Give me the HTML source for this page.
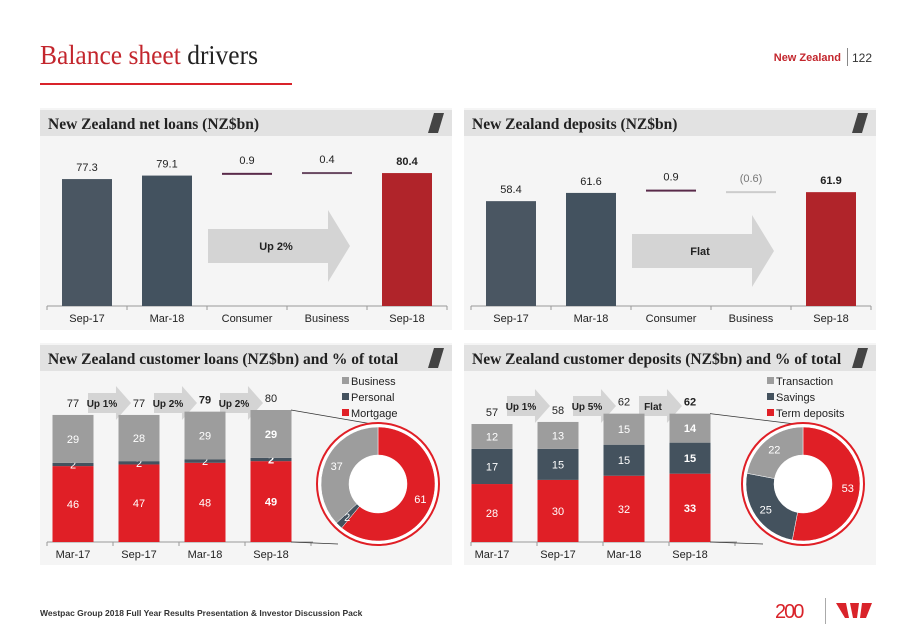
<!DOCTYPE html>
<html><head><meta charset="utf-8">
<style>
html,body{margin:0;padding:0;background:#fff;}
svg{display:block;font-family:"Liberation Sans",Arial,sans-serif;}
.ser{font-family:"Liberation Serif","Times New Roman",serif;}
</style></head>
<body>
<svg id="s" width="911" height="635" viewBox="0 0 911 635" xmlns="http://www.w3.org/2000/svg">
<text x="40" y="64" class="ser" font-size="27" textLength="218" lengthAdjust="spacingAndGlyphs" fill="#c3262d">Balance sheet <tspan fill="#222">drivers</tspan></text>
<rect x="40" y="83" width="252" height="2" fill="#d9232a"/>
<text x="841" y="61" text-anchor="end" font-size="11" font-weight="bold" fill="#c3262d">New Zealand</text>
<rect x="847" y="48" width="1" height="18" fill="#888"/>
<text x="852" y="62" font-size="12" fill="#333">122</text>
<text x="40" y="616" font-size="8.5" font-weight="bold" fill="#333">Westpac Group 2018 Full Year Results Presentation &amp; Investor Discussion Pack</text>
<text x="775" y="618" font-size="20" fill="#d9232a" letter-spacing="-2">200</text>
<rect x="825" y="598" width="1" height="26" fill="#aaa"/>
<path d="M836 603h10l3 15h-4zM850 603h9l-2 15h-4zM862 603h10l-6 15h-6z" fill="#d9232a"/>
<g id="g"></g>
</svg>
<script>
// Net loans
const nlCats=["Sep-17","Mar-18","Consumer","Business","Sep-18"];
const nlVals=[77.3,79.1,0.9,0.4,80.4];
const nlLabels=["77.3","79.1","0.9","0.4","80.4"];
// Deposits
const dpCats=["Sep-17","Mar-18","Consumer","Business","Sep-18"];
const dpVals=[58.4,61.6,0.9,-0.6,61.9];
const dpLabels=["58.4","61.6","0.9","(0.6)","61.9"];
// Customer loans
const clCats=["Mar-17","Sep-17","Mar-18","Sep-18"];
const clMortgage=[46,47,48,49];
const clPersonal=[2,2,2,2];
const clBusiness=[29,28,29,29];
const clTotals=["77","77","79","80"];
const clGrowth=["Up 1%","Up 2%","Up 2%"];
const clPie=[61,2,37];
// Customer deposits
const cdCats=["Mar-17","Sep-17","Mar-18","Sep-18"];
const cdTerm=[28,30,32,33];
const cdSavings=[17,15,15,15];
const cdTrans=[12,13,15,14];
const cdTotals=["57","58","62","62"];
const cdGrowth=["Up 1%","Up 5%","Flat"];
const cdPie=[53,25,22];

const NS="http://www.w3.org/2000/svg";
const G=document.getElementById('g');
function mk(t,a,p){const e=document.createElementNS(NS,t);for(const k in a)e.setAttribute(k,a[k]);(p||G).appendChild(e);return e;}
function tx(x,y,s,a,p){const e=mk('text',Object.assign({x:x,y:y,'text-anchor':'middle','font-size':11,fill:'#222'},a),p);e.textContent=s;return e;}

function panel(x,y,w,h,title,name){
  const g=mk('g',{});
  
  
  mk('rect',{x:x,y:y,width:w,height:h,fill:'#f5f5f5'},g);
  const hb=mk('rect',{x:x,y:y+2,width:w,height:26,fill:'#e2e2e2'},g);
  
  
  mk('path',{d:`M${x+w-18} ${y+5}h10l-6 20h-10z`,fill:'#444'},g);
  const t=tx(x+8,y+21,title,{'text-anchor':'start','font-size':15.5,'font-weight':'bold',fill:'#222','class':'ser'},g);
  
  
  return g;
}
function arrow(x1,x2,yc,bh,hh,label,g,fs){
  const hl=Math.min(22,(x2-x1)*0.35);
  const p=mk('path',{d:`M${x1} ${yc-bh/2}H${x2-hl}V${yc-hh/2}L${x2} ${yc}L${x2-hl} ${yc+hh/2}V${yc+bh/2}H${x1}Z`,fill:'#d4d4d4'},g);
  
  
  const t=tx((x1+x2-hl)/2+(fs>10?8:0),yc+4,label,{'font-weight':'bold','font-size':fs||10},g);
  
  
}

function waterfall(x0,cats,vals,labels,base,k,name,title,arrowLabel,ay){
  const g=panel(x0,108,412,222,title,name);
  const y0=306;
  const ys=v=>y0-k*(v-base);
  const cx=i=>x0+47+i*80;
  mk('line',{x1:x0+7,x2:x0+407,y1:y0,y2:y0,stroke:'#999'},g);
  for(let i=0;i<=5;i++) mk('line',{x1:x0+7+i*80,x2:x0+7+i*80,y1:y0,y2:y0+4,stroke:'#999'},g);
  let run=vals[1];
  arrow(x0+168,x0+310,ay,34,72,arrowLabel,g,11);
  vals.forEach((v,i)=>{
    let ly;
    if(i<2||i===4){
      const r=mk('rect',{x:cx(i)-25,y:ys(v),width:50,height:y0-ys(v),fill:i===4?'#b0242a':(i===0?'#4a5662':'#43525f')},g);
      
      
      ly=ys(v)-8;
    } else {
      run+=v;
      const neg=v<0;
      const l=mk('rect',{x:cx(i)-25,y:ys(run)-1,width:50,height:2,fill:neg?'#cccccc':(i===3?'#6a4a62':'#5a2a4a')},g);
      
      
      ly=ys(run)-10;
    }
    const t=tx(cx(i),ly,labels[i],{'font-size':11,'font-weight':i===4?'bold':'normal',fill:vals[i]<0?'#777':'#222'},g);
    
    
    const c=tx(cx(i),322,cats[i],{'font-size':11},g);
    
    
  });
}
waterfall(40,nlCats,nlVals,nlLabels,11.7,1.935,'net-loans-chart','New Zealand net loans (NZ$bn)','Up 2%',246);
waterfall(464,dpCats,dpVals,dpLabels,17.6,2.57,'deposits-chart','New Zealand deposits (NZ$bn)','Flat',251);

function donut(cx,cy,vals,cols,g){
  const R=57,r=29;
  mk('circle',{cx:cx,cy:cy,r:61,fill:'#fff',stroke:'#e01f26','stroke-width':2},g);
  const tot=vals.reduce((a,b)=>a+b,0);
  let a0=0;
  vals.forEach((v,i)=>{
    const a1=a0+v/tot*2*Math.PI;
    const P=(a,rr)=>[cx+rr*Math.sin(a),cy-rr*Math.cos(a)];
    const [x1,y1]=P(a0,R),[x2,y2]=P(a1,R),[x3,y3]=P(a1,r),[x4,y4]=P(a0,r);
    const lg=(a1-a0)>Math.PI?1:0;
    const p=mk('path',{d:`M${x1} ${y1}A${R} ${R} 0 ${lg} 1 ${x2} ${y2}L${x3} ${y3}A${r} ${r} 0 ${lg} 0 ${x4} ${y4}Z`,fill:cols[i],stroke:'#fff','stroke-width':0.5},g);
    
    
    const am=(a0+a1)/2;const [lx,ly]=P(am,(R+r)/2+2);
    const t=tx(lx,ly+4,String(v),{fill:'#fff','font-size':11},g);
    
    
    a0=a1;
  });
}

function stacked(x0,cats,s1,s2,s3,totals,growth,pie,k,name,title,legend,bx,dcx,boldIdx,ay){
  const g=panel(x0,343,412,222,title,name);
  const y0=542;
  const cols=['#e01f26','#44525e','#9d9d9d'];
  mk('line',{x1:x0+7,x2:x0+273,y1:y0,y2:y0,stroke:'#999'},g);
  for(let i=0;i<=4;i++) mk('line',{x1:x0+7+i*66,x2:x0+7+i*66,y1:y0,y2:y0+4,stroke:'#999'},g);
  const cx=i=>bx+i*66;
  let lastTop=0;
  growth.forEach((s,i)=>arrow(cx(i)+15,cx(i)+58,ay,20,34,s,g,10));
  cats.forEach((c,i)=>{
    let acc=0;
    [s1,s2,s3].forEach((s,j)=>{
      const v=s[i];
      const y=y0-k*(acc+v);
      const r=mk('rect',{x:cx(i)-20.5,y:y,width:41,height:k*v,fill:cols[j]},g);
      
      
      const t=tx(cx(i),y+k*v/2+4,String(v),{fill:'#fff','font-size':11,'font-weight':i===3?'bold':'normal'},g);
      
      
      acc+=v;
    });
    lastTop=y0-k*acc;
    const tt=tx(cx(i),lastTop-8,totals[i],{'font-size':11,'font-weight':i===boldIdx?'bold':'normal'},g);
    
    
    const xl=tx(cx(i),558,c,{'font-size':11},g);
    
    
  });
  mk('line',{x1:cx(3)+20,y1:lastTop,x2:dcx,y2:425,stroke:'#333','stroke-width':0.8},g);
  mk('line',{x1:cx(3)+20,y1:y0,x2:dcx-40,y2:y0+2,stroke:'#333','stroke-width':0.8},g);
  donut(dcx,484,pie,cols,g);
  legend.forEach((l,i)=>{
    const c=[cols[2],cols[1],cols[0]][i];
    mk('rect',{x:dcx-36,y:377+i*16,width:7,height:7,fill:c},g);
    const t=tx(dcx-27,385+i*16,l,{'text-anchor':'start','font-size':11},g);
    
    
  });
}
stacked(40,clCats,clMortgage,clPersonal,clBusiness,clTotals,clGrowth,clPie,1.65,'customer-loans-chart','New Zealand customer loans (NZ$bn) and % of total',['Business','Personal','Mortgage'],73,378,2,403);
stacked(464,cdCats,cdTerm,cdSavings,cdTrans,cdTotals,cdGrowth,cdPie,2.07,'customer-deposits-chart','New Zealand customer deposits (NZ$bn) and % of total',['Transaction','Savings','Term deposits'],492,803,3,406);
</script>
</body></html>
